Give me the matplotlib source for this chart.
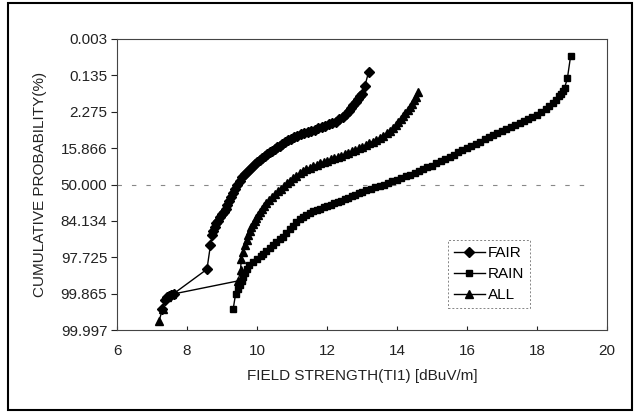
import matplotlib
matplotlib.use("Agg")
import matplotlib.pyplot as plt
from matplotlib.patches import Rectangle

# probability-paper axis: values stored as standard normal quantile (sigma)
prob_ticks = [-4, -3, -2, -1, 0, 1, 2, 3, 4]
prob_labels = ["0.003", "0.135", "2.275", "15.866", "50.000",
               "84.134", "97.725", "99.865", "99.997"]

fair_x = [7.28, 7.36, 7.42, 7.48, 7.55, 7.62, 8.57, 8.67, 8.72, 8.75, 8.80,
          8.84, 8.88, 8.94, 9.00, 9.05, 9.10, 9.15, 9.20, 9.25, 9.30, 9.36,
          9.43, 9.51, 9.58, 9.65, 9.72, 9.79, 9.86, 9.93, 10.00, 10.08,
          10.15, 10.22, 10.29, 10.36, 10.43, 10.50, 10.57, 10.65, 10.72,
          10.80, 10.88, 10.96, 11.05, 11.15, 11.25, 11.35, 11.45, 11.55,
          11.65, 11.75, 11.85, 11.95, 12.05, 12.15, 12.25, 12.35, 12.45,
          12.55, 12.62, 12.69, 12.75, 12.82, 12.88, 12.94, 12.99, 13.08, 13.19]
fair_sigma = [3.42, 3.18, 3.10, 3.06, 3.03, 3.00, 2.33, 1.67, 1.38, 1.28, 1.16,
              1.07, 0.99, 0.90, 0.82, 0.75, 0.66, 0.55, 0.45, 0.35, 0.22, 0.12,
              0.02, -0.10, -0.20, -0.28, -0.35, -0.42, -0.49, -0.55, -0.61, -0.66,
              -0.72, -0.77, -0.83, -0.88, -0.93, -0.98, -1.02, -1.07, -1.12,
              -1.17, -1.22, -1.26, -1.30, -1.34, -1.38, -1.41, -1.45, -1.48,
              -1.51, -1.55, -1.58, -1.62, -1.65, -1.69, -1.73, -1.79, -1.85,
              -1.93, -2.01, -2.10, -2.18, -2.26, -2.34, -2.42, -2.50, -2.70, -3.10]

rain_x = [9.32, 9.39, 9.45, 9.51, 9.56, 9.60, 9.65, 9.70, 9.78, 9.89, 10.00,
          10.10, 10.17, 10.27, 10.36, 10.46, 10.55, 10.65, 10.74, 10.83, 10.93,
          11.03, 11.12, 11.22, 11.32, 11.41, 11.50, 11.60, 11.70, 11.80, 11.90,
          12.00, 12.10, 12.20, 12.30, 12.40, 12.50, 12.60, 12.70, 12.80, 12.90,
          13.00, 13.12, 13.25, 13.37, 13.50, 13.62, 13.75, 13.87, 14.00, 14.12,
          14.25, 14.37, 14.50, 14.62, 14.75, 14.87, 15.00, 15.12, 15.25, 15.37,
          15.50, 15.62, 15.75, 15.87, 16.00, 16.12, 16.25, 16.37, 16.50, 16.62,
          16.75, 16.87, 17.00, 17.12, 17.25, 17.37, 17.50, 17.62, 17.75, 17.87,
          18.00, 18.12, 18.25, 18.35, 18.45, 18.54, 18.62, 18.68, 18.74, 18.79,
          18.87, 18.96]
rain_sigma = [3.42, 3.00, 2.88, 2.77, 2.65, 2.54, 2.42, 2.31, 2.22, 2.13, 2.04,
              1.96, 1.90, 1.82, 1.75, 1.67, 1.59, 1.50, 1.43, 1.33, 1.23,
              1.13, 1.02, 0.94, 0.88, 0.83, 0.78, 0.74, 0.70, 0.66, 0.63,
              0.59, 0.56, 0.52, 0.48, 0.44, 0.40, 0.36, 0.32, 0.28, 0.24,
              0.20, 0.16, 0.12, 0.08, 0.04, 0.00, -0.04, -0.09, -0.13, -0.18,
              -0.23, -0.27, -0.32, -0.37, -0.42, -0.47, -0.52, -0.58, -0.64, -0.70,
              -0.76, -0.82, -0.88, -0.94, -1.00, -1.06, -1.12, -1.18, -1.24, -1.30,
              -1.36, -1.42, -1.48, -1.53, -1.58, -1.63, -1.68, -1.74, -1.80, -1.86,
              -1.92, -1.99, -2.07, -2.15, -2.24, -2.33, -2.42, -2.50, -2.58, -2.66,
              -2.93, -3.53]

all_x = [7.20, 7.30, 7.42, 7.56, 9.46, 9.53, 9.55, 9.60, 9.65, 9.70, 9.75,
         9.79, 9.84, 9.89, 9.93, 9.98, 10.03, 10.08, 10.15, 10.21, 10.27,
         10.35, 10.43, 10.51, 10.60, 10.68, 10.76, 10.85, 10.94, 11.03, 11.12,
         11.22, 11.32, 11.41, 11.50, 11.60, 11.70, 11.80, 11.90, 12.00, 12.10,
         12.20, 12.30, 12.40, 12.50, 12.60, 12.70, 12.80, 12.90, 13.00, 13.10,
         13.20, 13.30, 13.40, 13.50, 13.60, 13.70, 13.80, 13.88, 13.96, 14.03,
         14.10, 14.17, 14.24, 14.30, 14.36, 14.42, 14.48, 14.53, 14.59]
all_sigma = [3.76, 3.42, 3.10, 3.02, 2.65, 2.36, 2.04, 1.85, 1.65, 1.53, 1.39,
             1.28, 1.17, 1.08, 0.99, 0.91, 0.83, 0.75, 0.66, 0.59, 0.52,
             0.43, 0.35, 0.27, 0.19, 0.11, 0.04, -0.03, -0.10, -0.17, -0.24,
             -0.31, -0.37, -0.42, -0.46, -0.50, -0.54, -0.58, -0.62, -0.65, -0.69,
             -0.72, -0.76, -0.79, -0.83, -0.87, -0.91, -0.95, -0.99, -1.03, -1.08,
             -1.13, -1.18, -1.23, -1.28, -1.34, -1.41, -1.48, -1.55, -1.63, -1.71,
             -1.79, -1.87, -1.96, -2.04, -2.12, -2.21, -2.31, -2.40, -2.53]

plt.rcParams['font.family'] = ['Liberation Sans', 'DejaVu Sans']

fig = plt.figure(figsize=(6.35, 4.12), dpi=100)
ax = fig.add_axes([117/635, 1 - 330/412, 490/635, 291/412])

ax.axhline(0, color="#888888", lw=0.8, ls=(0, (4, 9)), xmax=0.96, zorder=1)

ax.plot(fair_x, fair_sigma, color="black", lw=1.0, marker="D", ms=4.6,
        label="FAIR", zorder=3)
ax.plot(rain_x, rain_sigma, color="black", lw=1.0, marker="s", ms=5.0,
        label="RAIN", zorder=3)
ax.plot(all_x, all_sigma, color="black", lw=1.0, marker="^", ms=5.3,
        label="ALL", zorder=3)

ax.set_xlim(6, 20)
ax.set_ylim(4, -4)
ax.set_xticks([6, 8, 10, 12, 14, 16, 18, 20])
ax.set_yticks(prob_ticks)
ax.set_yticklabels(prob_labels)
ax.tick_params(axis="x", direction="in", length=3, labelsize=11, pad=10,
               colors="#222222")
ax.tick_params(axis="y", direction="out", length=4, labelsize=11, pad=3,
               colors="#222222")
for sp in ax.spines.values():
    sp.set_linewidth(0.8)
    sp.set_color("#444444")

ax.set_xlabel("FIELD STRENGTH(TI1) [dBuV/m]", fontsize=11, labelpad=8,
              color="#222222")
ax.set_ylabel("CUMULATIVE PROBABILITY(%)", fontsize=11, labelpad=10,
              color="#222222")

leg = ax.legend(loc="upper left", bbox_to_anchor=((448 - 117) / 490, (330 - 240) / 291),
                fontsize=11, frameon=True, fancybox=False, handlelength=2.0,
                handletextpad=0.2, borderpad=0.4, labelspacing=0.45,
                borderaxespad=0)
leg.get_frame().set_edgecolor("#666666")
leg.get_frame().set_linestyle((0, (2, 2)))
leg.get_frame().set_linewidth(0.7)

fig.patches.append(Rectangle((8 / 635, 2 / 412), 624 / 635, 407 / 412,
                             transform=fig.transFigure, fill=False,
                             edgecolor="black", lw=1.5))

fig.savefig("out.png", dpi=100)
